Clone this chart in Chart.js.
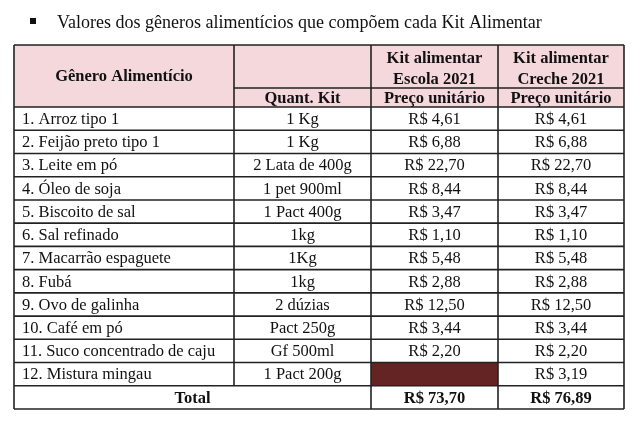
<!DOCTYPE html>
<html>
<head>
<meta charset="utf-8">
<script src="https://cdn.jsdelivr.net/npm/chart.js@4.4.0/dist/chart.umd.min.js"></script>
<style>
  html, body { margin: 0; background: #fff; }
  #wrap { width: 640px; height: 427px; }
</style>
</head>
<body>
<div id="wrap"><canvas id="kit-table"></canvas></div>
<script>
// data
const tituloTabela = 'Valores dos gêneros alimentícios que compõem cada Kit Alimentar';
const itens = ['1. Arroz tipo 1', '2. Feijão preto tipo 1', '3. Leite em pó', '4. Óleo de soja',
  '5. Biscoito de sal', '6. Sal refinado', '7. Macarrão espaguete', '8. Fubá',
  '9. Ovo de galinha', '10. Café em pó', '11. Suco concentrado de caju', '12. Mistura mingau'];
const quantidades = ['1 Kg', '1 Kg', '2 Lata de 400g', '1 pet 900ml', '1 Pact 400g', '1kg',
  '1Kg', '1kg', '2 dúzias', 'Pact 250g', 'Gf 500ml', '1 Pact 200g'];
const precoEscola = [4.61, 6.88, 22.70, 8.44, 3.47, 1.10, 5.48, 2.88, 12.50, 3.44, 2.20, null];
const precoCreche = [4.61, 6.88, 22.70, 8.44, 3.47, 1.10, 5.48, 2.88, 12.50, 3.44, 2.20, 3.19];
const totais = [73.70, 76.89];
const cabecalhoKits = [['Kit alimentar', 'Escola 2021'], ['Kit alimentar', 'Creche 2021']];
const subCabecalhos = ['Quant. Kit', 'Preço unitário', 'Preço unitário'];
const cabecalhoGenero = 'Gênero Alimentício';
const rotuloTotal = 'Total';

// layout (table units, not data)
const colEdges = [0, 220, 357, 484, 610];
const headRows = [0, 1.85, 2.67];          // top, split, bottom of the pink header
const rowH = 1;                            // one body row
const bodyTop = headRows[2];
const tableBottom = bodyTop + (itens.length + 1) * rowH;

const PINK = '#f4d8dc';
const DARK_RED = '#632423';
const LINE = '#222';
const SERIF = '"Liberation Serif", "Times New Roman", serif';

function reais(v) {
  return 'R$ ' + v.toFixed(2).replace('.', ',');
}

const tablePlugin = {
  id: 'kitTable',
  afterDraw(chart) {
    const ctx = chart.ctx;
    const xs = chart.scales.x, ys = chart.scales.y;
    const X = v => xs.getPixelForValue(v);
    const Y = v => ys.getPixelForValue(v);

    function fill(c0, c1, r0, r1, color) {
      ctx.fillStyle = color;
      ctx.fillRect(X(colEdges[c0]), Y(r0), X(colEdges[c1]) - X(colEdges[c0]), Y(r1) - Y(r0));
    }
    function hline(c0, c1, r) {
      ctx.beginPath();
      ctx.moveTo(X(colEdges[c0]), Y(r));
      ctx.lineTo(X(colEdges[c1]), Y(r));
      ctx.stroke();
    }
    function vline(c, r0, r1) {
      ctx.beginPath();
      ctx.moveTo(X(colEdges[c]), Y(r0));
      ctx.lineTo(X(colEdges[c]), Y(r1));
      ctx.stroke();
    }
    function text(str, c0, c1, r0, r1, bold, align) {
      ctx.font = (bold ? 'bold ' : '') + '16.5px ' + SERIF;
      ctx.fillStyle = '#111';
      ctx.textBaseline = 'middle';
      const y = (Y(r0) + Y(r1)) / 2 + 1;
      if (align === 'left') {
        ctx.textAlign = 'left';
        ctx.fillText(str, X(colEdges[c0]) + 8, y);
      } else {
        ctx.textAlign = 'center';
        ctx.fillText(str, (X(colEdges[c0]) + X(colEdges[c1])) / 2, y);
      }
    }

    ctx.save();

    // title with bullet
    ctx.fillStyle = '#111';
    ctx.fillRect(30, 18, 6, 6);
    ctx.font = '18px ' + SERIF;
    ctx.textAlign = 'left';
    ctx.textBaseline = 'alphabetic';
    ctx.fillText(tituloTabela, 57, 28);

    // fills
    fill(0, 4, headRows[0], headRows[2], PINK);
    precoEscola.forEach((v, i) => {
      if (v === null) fill(2, 3, bodyTop + i * rowH, bodyTop + (i + 1) * rowH, DARK_RED);
    });

    // grid lines
    ctx.strokeStyle = LINE;
    ctx.lineWidth = 1.6;
    hline(0, 4, headRows[0]);
    hline(1, 4, headRows[1]);
    for (let i = 0; i <= itens.length + 1; i++) hline(0, 4, bodyTop + i * rowH);
    vline(0, headRows[0], tableBottom);
    vline(1, headRows[0], tableBottom - rowH);
    vline(2, headRows[0], tableBottom);
    vline(3, headRows[0], tableBottom);
    vline(4, headRows[0], tableBottom);

    // header text
    text(cabecalhoGenero, 0, 1, headRows[0], headRows[2], true);
    cabecalhoKits.forEach((lines, k) => {
      const mid = (headRows[0] + headRows[1]) / 2;
      text(lines[0], 2 + k, 3 + k, headRows[0] + 0.08, mid + 0.13, true);
      text(lines[1], 2 + k, 3 + k, mid + 0.03, headRows[1] + 0.08, true);
    });
    subCabecalhos.forEach((s, k) => text(s, 1 + k, 2 + k, headRows[1], headRows[2], true));

    // body
    itens.forEach((it, i) => {
      const r0 = bodyTop + i * rowH, r1 = r0 + rowH;
      text(it, 0, 1, r0, r1, false, 'left');
      text(quantidades[i], 1, 2, r0, r1, false);
      if (precoEscola[i] !== null) text(reais(precoEscola[i]), 2, 3, r0, r1, false);
      if (precoCreche[i] !== null) text(reais(precoCreche[i]), 3, 4, r0, r1, false);
    });

    // total row
    const t0 = bodyTop + itens.length * rowH;
    text(rotuloTotal, 0, 2, t0, t0 + rowH, true);
    totais.forEach((v, k) => text(reais(v), 2 + k, 3 + k, t0, t0 + rowH, true));

    ctx.restore();
  }
};

const ctxTable = document.getElementById('kit-table').getContext('2d');
const kitChart = new Chart(ctxTable, {
  type: 'scatter',
  data: { datasets: [] },
  options: {
    responsive: true,
    maintainAspectRatio: false,
    animation: false,
    layout: { padding: { left: 14, right: 16, top: 45, bottom: 18 } },
    plugins: { legend: { display: false }, tooltip: { enabled: false }, title: { display: false } },
    scales: {
      x: { type: 'linear', min: colEdges[0], max: colEdges[colEdges.length - 1], display: false },
      y: { type: 'linear', min: 0, max: tableBottom, reverse: true, display: false }
    }
  },
  plugins: [tablePlugin]
});
</script>
</body>
</html>
